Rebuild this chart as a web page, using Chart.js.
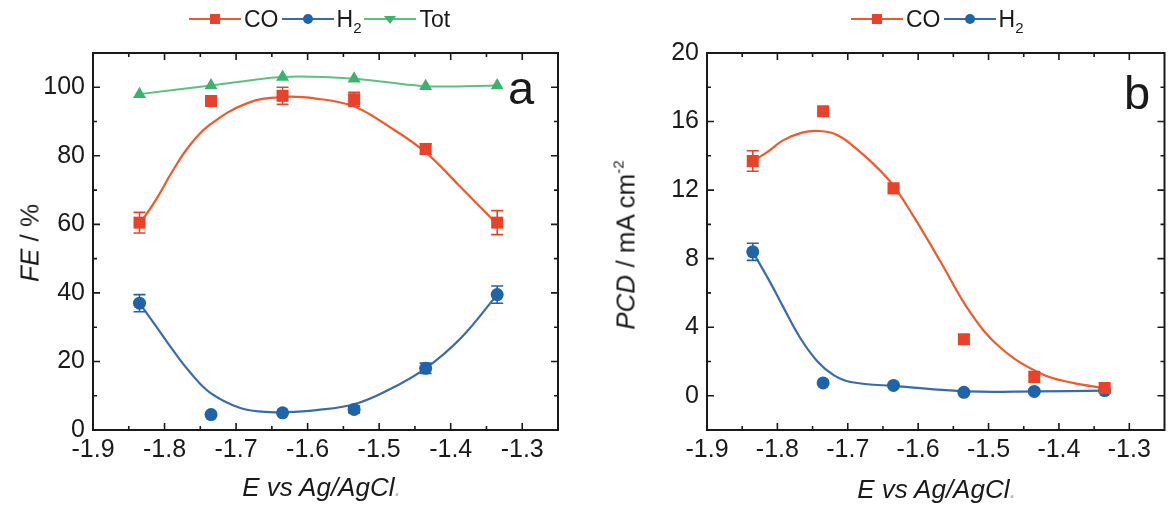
<!DOCTYPE html>
<html lang="en">
  <head>
    <meta charset="UTF-8" />
    <title>FE and PCD vs potential</title>
    <script src="https://cdn.jsdelivr.net/npm/chart.js"></script>
    <style>
      body {
        margin: 0;
        background: #ffffff;
        font-family: "Liberation Sans", Arial, sans-serif;
        color: #1a1a1a;
      }

      .stage {
        position: relative;
        width: 1173px;
        height: 507px;
        overflow: hidden;
      }

      canvas {
        position: absolute;
        top: 0;
      }

      #chartA { left: 0; }
      #chartB { left: 586px; }

      .legend {
        position: absolute;
        top: 5px;
        display: flex;
        align-items: center;
        font-size: 23px;
        white-space: nowrap;
      }

      .legend span.lbl { display: inline-block; }

      .key {
        position: relative;
        display: inline-block;
        width: 52px;
        height: 28px;
        margin: 0 3px;
      }

      .key::before {
        content: "";
        position: absolute;
        left: 0;
        right: 0;
        top: 13px;
        height: 2px;
        background: var(--c);
      }

      .key i {
        position: absolute;
        left: 50%;
        top: 14px;
        transform: translate(-50%, -50%);
        background: var(--m);
      }

      .key i.sq { width: 10px; height: 10px; }
      .key i.ci { width: 10px; height: 10px; border-radius: 50%; }
      .key i.tri {
        width: 0;
        height: 0;
        background: none;
        border-left: 6px solid transparent;
        border-right: 6px solid transparent;
        border-top: 8px solid var(--m);
        top: 15px;
      }

      .ytitle {
        position: absolute;
        transform: translate(-50%, -50%) rotate(-90deg);
        white-space: nowrap;
        font-size: 26px;
      }

      .xtitle {
        position: absolute;
        transform: translateX(-50%);
        font-size: 26px;
        font-style: italic;
        white-space: nowrap;
      }

      .tag {
        position: absolute;
        font-size: 47px;
        line-height: 1;
      }

      sub { font-size: 15px; vertical-align: baseline; position: relative; top: 6px; }
      sup { font-size: 15px; vertical-align: baseline; position: relative; top: -11px; }
    </style>
  </head>
  <body>
    <div class="stage">
      <canvas id="chartA" width="586" height="507"></canvas>
      <canvas id="chartB" width="587" height="507"></canvas>

      <div class="legend" style="left: 186px">
        <span class="key" style="--c: #f0592b; --m: #e8432a"><i class="sq"></i></span><span class="lbl">CO</span>
        <span class="key" style="--c: #3a6aa8; --m: #1f63a8"><i class="ci"></i></span><span class="lbl">H<sub>2</sub></span>
        <span class="key" style="--c: #5cc07f; --m: #3bb36a"><i class="tri"></i></span><span class="lbl">Tot</span>
      </div>
      <div class="legend" style="left: 848px">
        <span class="key" style="--c: #f0592b; --m: #e8432a"><i class="sq"></i></span><span class="lbl">CO</span>
        <span class="key" style="--c: #3a6aa8; --m: #1f63a8"><i class="ci"></i></span><span class="lbl">H<sub>2</sub></span>
      </div>

      <div class="ytitle" style="left: 30px; top: 243px"><i>FE</i> / %</div>
      <div class="ytitle" style="left: 626px; top: 245px"><i>PCD</i> / mA cm<sup>-2</sup></div>
      <div class="xtitle" style="left: 322px; top: 472px">E vs Ag/AgCl<span style="color:#bbb">.</span></div>
      <div class="xtitle" style="left: 937px; top: 474px">E vs Ag/AgCl<span style="color:#bbb">.</span></div>
      <div class="tag" style="left: 508px; top: 64px">a</div>
      <div class="tag" style="left: 1124px; top: 69px">b</div>
    </div>

    <script>
      // measured points (E vs Ag/AgCl)
      const potentials = [-1.835, -1.735, -1.635, -1.535, -1.435, -1.335];

      // panel a: Faradaic efficiency
      const feCO = [60.5, 96, 97.5, 96.5, 82, 60.5];
      const feCOErr = [3, 0, 2.5, 2, 1.5, 3.5];
      const feH2 = [37, 4.5, 5, 6, 18, 39.5];
      const feH2Err = [2.5, 0, 0, 1, 1.5, 2.5];
      const feTot = [98, 100.5, 103, 102.5, 100.3, 100.5];

      // panel a: fitted curves
      const fitEa = [-1.835, -1.811, -1.789, -1.765, -1.737, -1.685, -1.634, -1.588, -1.535, -1.486, -1.435, -1.389, -1.335];
      const fitCOa = [60, 67.5, 75.5, 83, 89, 95.3, 97.2, 96.7, 94.4, 88.5, 81, 71.5, 60];
      const fitEaH = [-1.835, -1.811, -1.789, -1.765, -1.737, -1.695, -1.66, -1.634, -1.588, -1.535, -1.486, -1.435, -1.385, -1.335];
      const fitH2a = [37, 30, 23.5, 17, 11, 6.5, 5.3, 5.2, 5.8, 7.5, 11.8, 18, 27, 39.5];

      // panel b: partial current density
      const pcdCO = [13.7, 16.6, 12.1, 3.3, 1.1, 0.45];
      const pcdCOErr = [0.6, 0, 0, 0, 0, 0];
      const pcdH2 = [8.4, 0.75, 0.6, 0.2, 0.25, 0.3];
      const pcdH2Err = [0.5, 0, 0, 0, 0, 0];

      const fitEbC = [-1.835, -1.815, -1.792, -1.765, -1.743, -1.72, -1.696, -1.644, -1.607, -1.568, -1.525, -1.483, -1.426, -1.38, -1.335];
      const fitCOb = [13.7, 14.2, 14.9, 15.35, 15.45, 15.3, 14.7, 12.7, 10.5, 7.8, 4.8, 2.8, 1.3, 0.75, 0.45];
      const fitEbH = [-1.835, -1.81, -1.792, -1.768, -1.743, -1.72, -1.696, -1.628, -1.53, -1.435, -1.335];
      const fitH2b = [8.4, 6.6, 5.2, 3.4, 2.0, 1.2, 0.8, 0.55, 0.25, 0.25, 0.3];

      // axes
      const xTicks = [-1.9, -1.8, -1.7, -1.6, -1.5, -1.4, -1.3];
      const yTicksA = [0, 20, 40, 60, 80, 100];
      const yTicksB = [0, 4, 8, 12, 16, 20];

      const RED = "#e8432a", RED_LINE = "#f0592b";
      const BLUE = "#1f63a8", BLUE_LINE = "#3a6aa8";
      const GREEN = "#3bb36a", GREEN_LINE = "#5cc07f";
      const INK = "#1a1a1a";

      const pts = (xs, ys) => xs.map((x, i) => ({ x: x, y: ys[i] }));

      // error bars, from a dataset's "errors" array
      const errorBars = {
        id: "errorBars",
        afterDatasetsDraw(chart) {
          const { ctx, scales } = chart;
          ctx.save();
          chart.data.datasets.forEach((ds) => {
            if (!ds.errors) return;
            ctx.strokeStyle = ds.borderColor;
            ctx.lineWidth = 1.6;
            ds.data.forEach((p, i) => {
              const e = ds.errors[i];
              if (!e) return;
              const px = scales.x.getPixelForValue(p.x);
              const y1 = scales.y.getPixelForValue(p.y - e);
              const y2 = scales.y.getPixelForValue(p.y + e);
              ctx.beginPath();
              ctx.moveTo(px, y1); ctx.lineTo(px, y2);
              ctx.moveTo(px - 6, y1); ctx.lineTo(px + 6, y1);
              ctx.moveTo(px - 6, y2); ctx.lineTo(px + 6, y2);
              ctx.stroke();
            });
          });
          ctx.restore();
        },
      };

      // box frame with inward major and minor ticks on all four sides
      const frameTicks = {
        id: "frameTicks",
        afterDraw(chart) {
          const { ctx, chartArea: a, scales } = chart;
          const mids = (v) => v.slice(1).map((t, i) => (t + v[i]) / 2);
          const xs = scales.x.ticks.map((t) => t.value);
          const ys = scales.y.ticks.map((t) => t.value);
          const xm = mids(xs).concat([xs[xs.length - 1] + 0.05]);
          const ym = mids(ys).concat(scales.y.min < ys[0] ? [ys[0] - (ys[1] - ys[0]) / 2] : []);
          ctx.save();
          ctx.strokeStyle = INK;
          ctx.lineWidth = 2;
          ctx.strokeRect(a.left, a.top, a.right - a.left, a.bottom - a.top);
          ctx.lineWidth = 1.6;
          ctx.beginPath();
          const xTick = (v, len) => {
            const px = scales.x.getPixelForValue(v);
            if (px < a.left + 1 || px > a.right - 1) return;
            ctx.moveTo(px, a.bottom); ctx.lineTo(px, a.bottom - len);
            ctx.moveTo(px, a.top); ctx.lineTo(px, a.top + len);
          };
          const yTick = (v, len) => {
            const py = scales.y.getPixelForValue(v);
            if (py < a.top + 1 || py > a.bottom - 1) return;
            ctx.moveTo(a.left, py); ctx.lineTo(a.left + len, py);
            ctx.moveTo(a.right, py); ctx.lineTo(a.right - len, py);
          };
          xs.forEach((v) => xTick(v, 7));
          xm.forEach((v) => xTick(v, 4));
          ys.forEach((v) => yTick(v, 7));
          ym.forEach((v) => yTick(v, 4));
          ctx.stroke();
          ctx.restore();
        },
      };

      function markers(data, color, style, radius, errors) {
        return {
          data: data,
          showLine: false,
          pointStyle: style,
          pointRadius: radius,
          pointBackgroundColor: color,
          pointBorderColor: color,
          pointBorderWidth: 0,
          borderColor: color,
          backgroundColor: color,
          errors: errors,
        };
      }

      function fitLine(data, color) {
        return {
          data: data,
          showLine: true,
          pointRadius: 0,
          borderColor: color,
          borderWidth: 2.2,
          tension: 0.4,
        };
      }

      function makeChart(id, datasets, yMin, yMax, yTicks, leftWidth, rightPad) {
        const tickFont = { family: "'Liberation Sans', Arial, sans-serif", size: 25 };
        return new Chart(document.getElementById(id), {
          type: "line",
          data: { datasets: datasets },
          options: {
            responsive: false,
            animation: false,
            events: [],
            layout: { padding: { top: 53, right: rightPad, left: 0, bottom: 0 } },
            plugins: { legend: { display: false }, tooltip: { enabled: false } },
            scales: {
              x: {
                type: "linear",
                min: -1.9,
                max: -1.25,
                grid: { display: false, drawTicks: false },
                border: { display: false },
                afterBuildTicks: (s) => { s.ticks = xTicks.map((v) => ({ value: v })); },
                afterFit: (s) => { s.height = 77; },
                ticks: {
                  color: INK,
                  font: tickFont,
                  padding: 5,
                  maxRotation: 0,
                  autoSkip: false,
                  callback: (v) => v.toFixed(1),
                },
              },
              y: {
                min: yMin,
                max: yMax,
                grid: { display: false, drawTicks: false },
                border: { display: false },
                afterBuildTicks: (s) => { s.ticks = yTicks.map((v) => ({ value: v })); },
                afterFit: (s) => { s.width = leftWidth; },
                ticks: { color: INK, font: tickFont, padding: 8, autoSkip: false },
              },
            },
          },
          plugins: [errorBars, frameTicks],
        });
      }

      makeChart(
        "chartA",
        [
          markers(pts(potentials, feCO), RED, "rect", 8.5, feCOErr),
          markers(pts(potentials, feH2), BLUE, "circle", 6.5, feH2Err),
          Object.assign(markers(pts(potentials, feTot), GREEN, "triangle", 7.5), {
            showLine: true,
            borderColor: GREEN_LINE,
            borderWidth: 2,
            tension: 0.3,
          }),
          fitLine(pts(fitEa, fitCOa), RED_LINE),
          fitLine(pts(fitEaH, fitH2a), BLUE_LINE),
        ],
        0, 110, yTicksA, 93, 28
      );

      makeChart(
        "chartB",
        [
          markers(pts(potentials, pcdCO), RED, "rect", 8.5, pcdCOErr),
          markers(pts(potentials, pcdH2), BLUE, "circle", 6.5, pcdH2Err),
          fitLine(pts(fitEbC, fitCOb), RED_LINE),
          fitLine(pts(fitEbH, fitH2b), BLUE_LINE),
        ],
        -2, 20, yTicksB, 121, 1
      );
    </script>
  </body>
</html>
